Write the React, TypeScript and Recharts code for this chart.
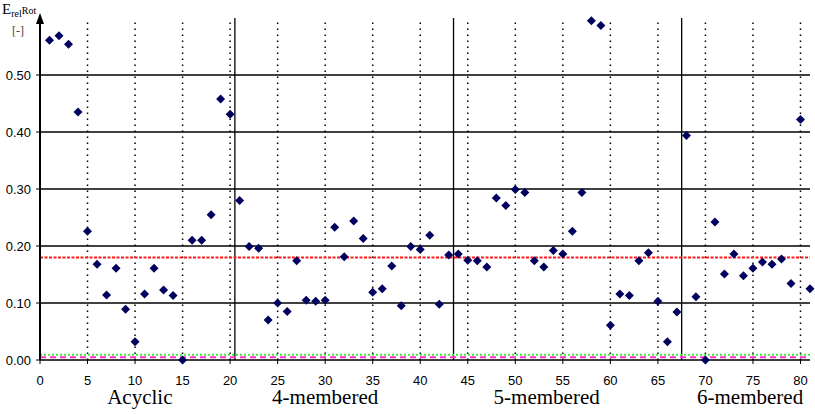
import { ScatterChart, Scatter, XAxis, YAxis, ReferenceLine, ReferenceDot } from "recharts";

// relative rotational energy per compound (compound no. 1..81)
const energies = [
  0.561, 0.569, 0.554, 0.435, 0.226, 0.168, 0.114, 0.161, 0.089, 0.032,
  0.116, 0.161, 0.123, 0.113, 0.0, 0.21, 0.21, 0.255, 0.458, 0.431,
  0.28, 0.199, 0.196, 0.07, 0.1, 0.085, 0.174, 0.105, 0.103, 0.105,
  0.233, 0.181, 0.244, 0.213, 0.119, 0.125, 0.165, 0.095, 0.199, 0.194,
  0.219, 0.098, 0.184, 0.186, 0.175, 0.174, 0.163, 0.284, 0.271, 0.299,
  0.294, 0.174, 0.163, 0.192, 0.186, 0.226, 0.294, 0.595, 0.587, 0.061,
  0.116, 0.113, 0.174, 0.188, 0.103, 0.032, 0.084, 0.394, 0.111, 0.0,
  0.242, 0.151, 0.186, 0.148, 0.161, 0.172, 0.168, 0.177, 0.134, 0.422,
  0.125,
];

const xTicks = [0, 5, 10, 15, 20, 25, 30, 35, 40, 45, 50, 55, 60, 65, 70, 75, 80];
const dottedX = [5, 10, 15, 20, 25, 30, 35, 40, 45, 50, 55, 60, 65, 70, 75, 80];
const yTicks = [0, 0.1, 0.2, 0.3, 0.4, 0.5];
const gridY = [0.1, 0.2, 0.3, 0.4, 0.5];
const groupBounds = [20.5, 43.5, 67.5];
const groupNames = ["Acyclic", "4-membered", "5-membered", "6-membered"];
const groupLabelAt = [10.5, 30, 53.3, 74.7];
const meanLine = 0.18;
const limitGreen = 0.009;
const limitPink = 0.005;

const points = energies.map((e, i) => ({ n: i + 1, e }));

const Diamond = (props: any) => {
  const { cx, cy } = props;
  const r = 4.5;
  return (
    <polygon
      points={`${cx},${cy - r} ${cx + r},${cy} ${cx},${cy + r} ${cx - r},${cy}`}
      fill="#00005e"
    />
  );
};

const Arrow = (props: any) => {
  const { cx, cy } = props;
  return <polygon points={`${cx},${cy - 5} ${cx + 4},${cy + 6} ${cx - 4},${cy + 6}`} fill="#000" />;
};

// group name drawn under the axis, anchored at y = 0 of its group
const groupLabel = (name: string) => (props: any) => (
  <text
    x={props.cx}
    y={props.cy + 44}
    textAnchor="middle"
    fontSize={21}
    fill="#000"
    fontFamily="'Liberation Serif', 'Times New Roman', serif"
  >
    {name}
  </text>
);

const AxisTitle = () => (
  <g fontFamily="'Liberation Serif', 'Times New Roman', serif" fill="#000">
    <text x={2} y={14} fontSize={15}>
      E
      <tspan fontSize={10} dy={3}>rel</tspan>
      <tspan fontSize={10} dy={-3}>Rot</tspan>
    </text>
    <text x={12} y={35} fontSize={12} fill="#444">[-]</text>
  </g>
);

export default function App() {
  return (
    <div style={{ position: "absolute", left: 0, top: 0, background: "#fff" }}>
      <ScatterChart width={815} height={414} margin={{ top: 18, right: 5, left: 0, bottom: 0 }}>
        <XAxis
          xAxisId="main"
          type="number"
          dataKey="n"
          domain={[0, 81]}
          ticks={xTicks}
          interval={0}
          height={54}
          tickSize={4}
          tickMargin={12}
          axisLine={{ stroke: "#000", strokeWidth: 1.5 }}
          tickLine={{ stroke: "#000" }}
          tick={{ fill: "#000", fontSize: 13, fontFamily: "'Liberation Sans', Arial, sans-serif" }}
        />
        <YAxis
          type="number"
          dataKey="e"
          domain={[0, 0.6]}
          ticks={yTicks}
          interval={0}
          width={40}
          tickSize={4}
          tickMargin={5}
          tickFormatter={(v: number) => v.toFixed(2)}
          axisLine={{ stroke: "#000", strokeWidth: 2 }}
          tickLine={{ stroke: "#000" }}
          tick={{ fill: "#000", fontSize: 13, fontFamily: "'Liberation Sans', Arial, sans-serif" }}
          label={<AxisTitle />}
        />

        {gridY.map((v) => (
          <ReferenceLine key={"h" + v} xAxisId="main" y={v} stroke="#000" strokeWidth={1.5} />
        ))}
        {dottedX.map((v) => (
          <ReferenceLine key={"v" + v} xAxisId="main" x={v} stroke="#000" strokeWidth={1.5} strokeDasharray="1.5 4.5" />
        ))}
        {groupBounds.map((v) => (
          <ReferenceLine key={"g" + v} xAxisId="main" x={v} stroke="#000" strokeWidth={1.3} />
        ))}
        <ReferenceLine xAxisId="main" y={limitGreen} stroke="#44e844" strokeWidth={2} strokeDasharray="2 2" />
        <ReferenceLine xAxisId="main" y={limitPink} stroke="#ff33cc" strokeWidth={2} strokeDasharray="6 4" />
        <ReferenceLine xAxisId="main" y={meanLine} stroke="#ff1a1a" strokeWidth={2} strokeDasharray="3 1.5" />
        <ReferenceDot xAxisId="main" x={0} y={0.6} ifOverflow="visible" shape={<Arrow />} />
        {groupNames.map((name, i) => (
          <ReferenceDot
            key={name}
            xAxisId="main"
            x={groupLabelAt[i]}
            y={0}
            ifOverflow="visible"
            shape={groupLabel(name)}
          />
        ))}

        <Scatter xAxisId="main" data={points} shape={<Diamond />} isAnimationActive={false} />
      </ScatterChart>
    </div>
  );
}
